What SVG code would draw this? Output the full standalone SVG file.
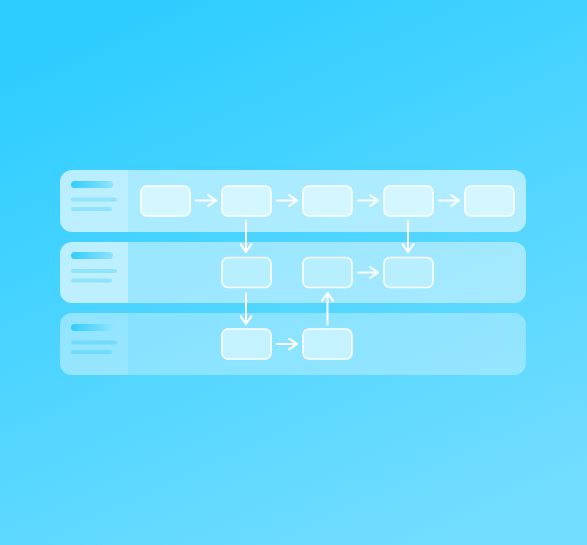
<svg xmlns="http://www.w3.org/2000/svg" width="587" height="545" viewBox="0 0 587 545">
  <defs>
    <linearGradient id="bg" x1="0.25" y1="0" x2="0.75" y2="1">
      <stop offset="0" stop-color="#2dcdff"/>
      <stop offset="1" stop-color="#72ddff"/>
    </linearGradient>
    <linearGradient id="bar" x1="0" y1="0" x2="1" y2="0">
      <stop offset="0" stop-color="#33ccfd"/>
      <stop offset="1" stop-color="#8ee3fd"/>
    </linearGradient>
    <marker id="ah" viewBox="0 0 10 10" refX="8.5" refY="5" markerWidth="13" markerHeight="13" markerUnits="userSpaceOnUse" orient="auto">
      <path d="M2.5,0.8 L8.5,5 L2.5,9.2" fill="none" stroke="#ffffff" stroke-width="1.6" stroke-linecap="round" stroke-linejoin="round"/>
    </marker>
    <clipPath id="c1"><rect x="60" y="170" width="466" height="62" rx="12"/></clipPath>
    <clipPath id="c2"><rect x="60" y="242" width="466" height="61" rx="12"/></clipPath>
    <clipPath id="c3"><rect x="60" y="313" width="466" height="62" rx="12"/></clipPath>
  </defs>
  <style>
    .node { stroke: #ffffff; stroke-width: 1.6; }
    .n1 { fill: #d4f7ff; }
    .n2 { fill: #b8effe; }
    .n3 { fill: #c4f3ff; }
    .line { fill: #8fe3fb; }
    .line3 { fill: #72dbfb; }
    .conn { stroke: #ffffff; stroke-width: 2; fill: none; stroke-linecap: round; marker-end: url(#ah); }
  </style>
  <rect width="587" height="545" fill="url(#bg)"/>

  <g id="lane1">
    <g clip-path="url(#c1)">
      <rect x="60" y="170" width="466" height="62" fill="#ffffff" fill-opacity="0.55"/>
      <rect x="60" y="170" width="68" height="62" fill="#ffffff" fill-opacity="0.22"/>
    </g>
    <rect x="71" y="181" width="42" height="7" rx="3.5" fill="url(#bar)"/>
    <rect class="line" x="71" y="197.5" width="46" height="4" rx="2"/>
    <rect class="line" x="71" y="207" width="41" height="4" rx="2"/>
  </g>
  <g id="lane2">
    <g clip-path="url(#c2)">
      <rect x="60" y="242" width="466" height="61" fill="#ffffff" fill-opacity="0.45"/>
      <rect x="60" y="242" width="68" height="61" fill="#ffffff" fill-opacity="0.35"/>
    </g>
    <rect x="71" y="252" width="42" height="7" rx="3.5" fill="url(#bar)"/>
    <rect class="line" x="71" y="269" width="46" height="4" rx="2"/>
    <rect class="line" x="71" y="278.5" width="41" height="4" rx="2"/>
  </g>
  <g id="lane3">
    <g clip-path="url(#c3)">
      <rect x="60" y="313" width="466" height="62" fill="#ffffff" fill-opacity="0.32"/>
      <rect x="60" y="313" width="68" height="62" fill="#ffffff" fill-opacity="0.12"/>
    </g>
    <rect x="71" y="324" width="42" height="7" rx="3.5" fill="url(#bar)"/>
    <rect class="line3" x="71" y="340.5" width="46" height="4" rx="2"/>
    <rect class="line3" x="71" y="350" width="41" height="4" rx="2"/>
  </g>

  <g id="connectors">
    <line class="conn" x1="196" y1="200.5" x2="216" y2="200.5"/>
    <line class="conn" x1="277" y1="200.5" x2="297" y2="200.5"/>
    <line class="conn" x1="358" y1="200.5" x2="378" y2="200.5"/>
    <line class="conn" x1="439" y1="200.5" x2="459" y2="200.5"/>
    <line class="conn" x1="246" y1="221" x2="246" y2="252"/>
    <line class="conn" x1="408" y1="221" x2="408" y2="252"/>
    <line class="conn" x1="358" y1="272.5" x2="378" y2="272.5"/>
    <line class="conn" x1="246" y1="293" x2="246" y2="324"/>
    <line class="conn" x1="277" y1="344" x2="297" y2="344"/>
    <line class="conn" x1="327.5" y1="324.5" x2="327.5" y2="293"/>
  </g>

  <g id="node-1-1"><rect class="node n1" x="141" y="186" width="49" height="30" rx="6"/></g>
  <g id="node-1-2"><rect class="node n1" x="222" y="186" width="49" height="30" rx="6"/></g>
  <g id="node-1-3"><rect class="node n1" x="303" y="186" width="49" height="30" rx="6"/></g>
  <g id="node-1-4"><rect class="node n1" x="384" y="186" width="49" height="30" rx="6"/></g>
  <g id="node-1-5"><rect class="node n1" x="465" y="186" width="49" height="30" rx="6"/></g>
  <g id="node-2-1"><rect class="node n2" x="222" y="257.5" width="49" height="30" rx="6"/></g>
  <g id="node-2-2"><rect class="node n2" x="303" y="257.5" width="49" height="30" rx="6"/></g>
  <g id="node-2-3"><rect class="node n2" x="384" y="257.5" width="49" height="30" rx="6"/></g>
  <g id="node-3-1"><rect class="node n3" x="222" y="329" width="49" height="30" rx="6"/></g>
  <g id="node-3-2"><rect class="node n3" x="303" y="329" width="49" height="30" rx="6"/></g>
</svg>
